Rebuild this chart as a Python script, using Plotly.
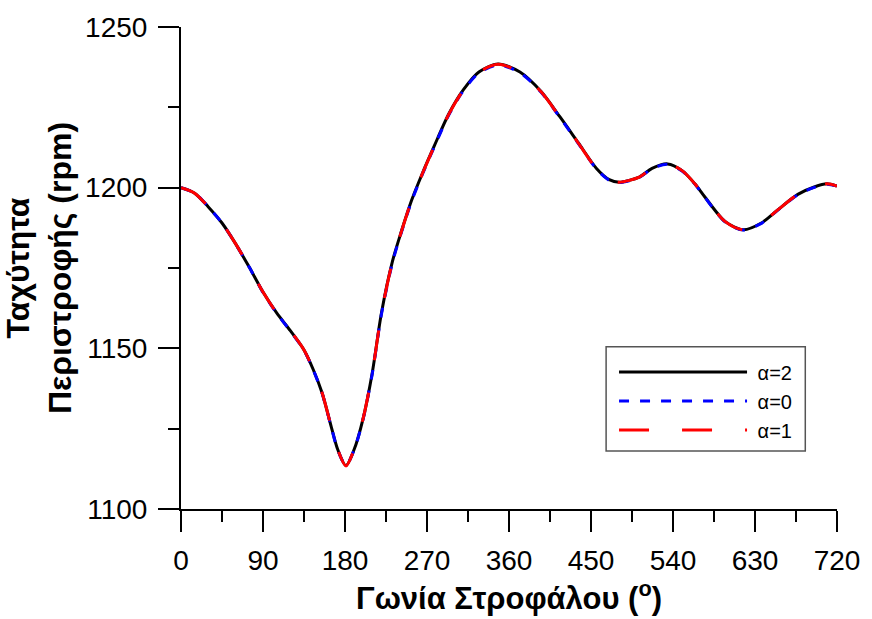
import plotly.graph_objects as go

# Crank angle (degrees) and engine speed (rpm) for three values of α
angle = [0, 15, 30, 45, 60, 75, 90, 105, 120, 135, 145, 155, 165, 172, 181,
         190, 200, 210, 220, 232, 242, 253, 265, 278, 294, 310, 327, 348,
         372, 395, 416, 436, 456, 470, 481, 503, 517, 534, 550, 564, 575,
         597, 617, 637, 655, 677, 695, 709, 720]

speed_a2 = [1200.0, 1198.3, 1194.0, 1189.0, 1182.5, 1175.2, 1167.5, 1161.0,
            1155.5, 1149.5, 1143.5, 1136.0, 1125.5, 1118.5, 1113.5,
            1118.5, 1128.3, 1142.5, 1161.0, 1177.0, 1186.5, 1196.0, 1204.5,
            1213.0, 1223.0, 1230.5, 1236.0, 1238.5, 1236.0, 1230.0, 1222.0,
            1214.0, 1206.0, 1202.5, 1201.7, 1203.3, 1206.0, 1207.4, 1205.3,
            1201.2, 1197.1, 1189.5, 1186.9, 1189.0, 1193.1, 1197.9, 1200.2,
            1201.2, 1200.5]

speed_a0 = [1200.0, 1198.3, 1194.0, 1189.0, 1182.5, 1175.2, 1167.4, 1160.9,
            1155.4, 1149.4, 1143.4, 1135.9, 1125.4, 1118.4, 1113.6,
            1118.4, 1128.1, 1142.2, 1160.6, 1176.6, 1186.2, 1195.7, 1204.2,
            1212.7, 1222.7, 1230.2, 1235.7, 1238.2, 1235.8, 1229.8, 1221.8,
            1213.8, 1205.8, 1202.3, 1201.6, 1203.2, 1205.9, 1207.3, 1205.2,
            1201.1, 1197.0, 1189.4, 1186.8, 1188.9, 1193.0, 1197.8, 1200.1,
            1201.1, 1200.5]

speed_a1 = [1200.0, 1198.3, 1194.0, 1189.0, 1182.5, 1175.2, 1167.5, 1161.0,
            1155.5, 1149.5, 1143.5, 1136.0, 1125.5, 1118.5, 1113.4,
            1118.5, 1128.3, 1142.4, 1160.9, 1176.9, 1186.4, 1195.9, 1204.4,
            1212.9, 1222.9, 1230.4, 1235.9, 1238.4, 1235.9, 1229.9, 1221.9,
            1213.9, 1205.9, 1202.4, 1201.7, 1203.3, 1206.0, 1207.4, 1205.3,
            1201.2, 1197.1, 1189.5, 1186.9, 1189.0, 1193.1, 1197.9, 1200.2,
            1201.2, 1200.5]

series_names = ["α=2", "α=0", "α=1"]

x_ticks = [0, 90, 180, 270, 360, 450, 540, 630, 720]
y_ticks = [1100, 1150, 1200, 1250]

FONT = "Liberation Sans, Arial, sans-serif"
PAD = "\u00a0"  # small gap between legend sample and its label

fig = go.Figure()
fig.add_trace(go.Scatter(x=angle, y=speed_a2, name=PAD + series_names[0], mode="lines",
                         line=dict(color="black", width=3, shape="spline", smoothing=0.8)))
fig.add_trace(go.Scatter(x=angle, y=speed_a0, name=PAD + series_names[1], mode="lines",
                         line=dict(color="#0000ff", width=3, dash="10px,11px",
                                   shape="spline", smoothing=0.8)))
fig.add_trace(go.Scatter(x=angle, y=speed_a1, name=PAD + series_names[2], mode="lines",
                         line=dict(color="#ff0000", width=3, dash="30px,33px",
                                   shape="spline", smoothing=0.8)))

fig.update_xaxes(
    range=[0, 720], tickvals=x_ticks, ticktext=[str(v) for v in x_ticks],
    showgrid=False, zeroline=False, showline=True, linecolor="black", linewidth=2,
    ticks="outside", ticklen=21, tickwidth=2, tickcolor="black",
    minor=dict(dtick=45, ticklen=11, tickwidth=2, tickcolor="black", ticks="outside", showgrid=False),
    tickfont=dict(family=FONT, size=28, color="black"), ticklabelstandoff=4,
    title=dict(text="<b>Γωνία Στροφάλου (<sup>o</sup>)</b>",
               font=dict(family=FONT, size=31, color="black"), standoff=0),
)
fig.update_yaxes(
    range=[1100, 1250], tickvals=y_ticks, ticktext=[str(v) for v in y_ticks],
    showgrid=False, zeroline=False, showline=True, linecolor="black", linewidth=2,
    ticks="outside", ticklen=21, tickwidth=2, tickcolor="black",
    minor=dict(dtick=25, ticklen=11, tickwidth=2, tickcolor="black", ticks="outside", showgrid=False),
    tickfont=dict(family=FONT, size=28, color="black"), ticklabelstandoff=5,
    title=dict(text="<b>Ταχύτητα<br>Περιστροφής (rpm)</b>",
               font=dict(family=FONT, size=32, color="black"), standoff=4),
)

# Frame around the legend
fig.add_shape(type="rect", xref="paper", yref="paper",
              x0=(610 - 181) / 662, x1=(811 - 181) / 662,
              y0=(509 - 450) / 490, y1=(509 - 344) / 490,
              line=dict(color="#555555", width=1.5), fillcolor="rgba(0,0,0,0)",
              layer="above")

fig.update_layout(
    width=872, height=619,
    margin=dict(l=181, r=29, t=19, b=110),
    paper_bgcolor="white", plot_bgcolor="white",
    showlegend=True,
    legend=dict(
        x=(618 - 181) / 662, y=(509 - 350) / 490, xanchor="left", yanchor="top",
        borderwidth=0, bgcolor="rgba(0,0,0,0)",
        font=dict(family=FONT, size=20, color="black"),
        itemwidth=128,
    ),
)

fig.write_html("out.html")
